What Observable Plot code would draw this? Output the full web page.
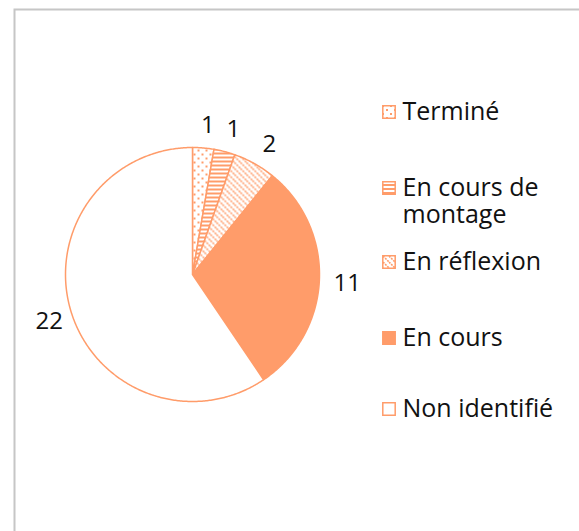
<!DOCTYPE html>
<html><head><meta charset="utf-8">
<script src="https://cdn.jsdelivr.net/npm/d3@7"></script>
<script src="https://cdn.jsdelivr.net/npm/@observablehq/plot@0.6"></script>
<style>body{margin:0;background:#fff;} svg{display:block;}</style>
</head><body><div id="chart"></div>
<script>
const categories = ["Terminé", "En cours de montage", "En réflexion", "En cours", "Non identifié"];
const legendLabels = ["Terminé", "En cours de\nmontage", "En réflexion", "En cours", "Non identifié"];
const values = [1, 1, 2, 11, 22];
const fills = ["url(#pDots)", "url(#pHoriz)", "url(#pDiag)", "#FF9C6A", "#ffffff"];
const orange = "#FF9C6A";
const font = "'Open Sans', sans-serif";

const total = d3.sum(values);
let acc = 0;
const slices = values.map((v, i) => {
  const a0 = acc / total * 2 * Math.PI;
  acc += v;
  const a1 = acc / total * 2 * Math.PI;
  const pts = [{x: 0, y: 0}];
  const n = Math.max(2, Math.ceil((a1 - a0) / 0.01));
  for (let k = 0; k <= n; k++) {
    const a = a0 + (a1 - a0) * k / n;
    pts.push({x: Math.sin(a), y: Math.cos(a)});
  }
  pts.push({x: 0, y: 0});
  const am = (a0 + a1) / 2;
  return {cat: categories[i], value: v, fill: fills[i], pts, lx: 1.2 * Math.sin(am) + 0.02, ly: 1.2 * Math.cos(am) - 0.02};
});

// layout helpers (pixel -> unit coordinates of the pie frame)
const cx = 192, cy = 274, R = 127;
const ux = px => (px - cx) / R, uy = py => (cy - py) / R;
const legendTops = [100, 176, 250, 326, 397];
const legend = categories.map((c, i) => ({
  label: legendLabels[i], fill: fills[i],
  sx: ux(388.5), sy: uy(legendTops[i] + 18 - 6.5),
  tx: ux(402), ty: uy(legendTops[i])
}));

const W = 579, H = 531;
const chart = Plot.plot({
  width: W, height: H,
  marginLeft: cx - R, marginRight: W - (cx + R),
  marginTop: cy - R, marginBottom: H - (cy + R),
  x: {domain: [-1, 1], axis: null},
  y: {domain: [-1, 1], axis: null},
  style: {fontFamily: font, background: "#fff"},
  marks: [
    ...slices.map(s => Plot.line(s.pts, {x: "x", y: "y", fill: s.fill, stroke: orange, strokeWidth: 1.5, strokeLinejoin: "round", curve: "linear"})),
    Plot.text(slices, {x: "lx", y: "ly", text: d => String(d.value), fontSize: 24, fill: "#111", textAnchor: "middle", lineAnchor: "middle"}),
    Plot.dot(legend, {x: "sx", y: "sy", symbol: "square", r: 7, fill: "fill", stroke: orange, strokeWidth: 1.5}),
    Plot.text(legend, {x: "tx", y: "ty", text: "label", fontSize: 25, fill: "#111", textAnchor: "start", lineAnchor: "top", lineHeight: 1.08})
  ]
});

const svg = d3.select(chart);
const defs = svg.insert("defs", ":first-child");
const p1 = defs.append("pattern").attr("id", "pDots").attr("patternUnits", "userSpaceOnUse").attr("width", 8).attr("height", 8);
p1.append("rect").attr("width", 8).attr("height", 8).attr("fill", "#fff");
p1.append("rect").attr("x", 1).attr("y", 1).attr("width", 2).attr("height", 2).attr("fill", orange);
p1.append("rect").attr("x", 5).attr("y", 5).attr("width", 2).attr("height", 2).attr("fill", orange);
const p2 = defs.append("pattern").attr("id", "pHoriz").attr("patternUnits", "userSpaceOnUse").attr("width", 4).attr("height", 4);
p2.append("rect").attr("width", 4).attr("height", 4).attr("fill", "#fff");
p2.append("rect").attr("y", 0).attr("width", 4).attr("height", 2).attr("fill", orange);
const p3 = defs.append("pattern").attr("id", "pDiag").attr("patternUnits", "userSpaceOnUse").attr("width", 6).attr("height", 6);
p3.append("rect").attr("width", 6).attr("height", 6).attr("fill", "#fff");
p3.append("path").attr("d", "M0,0L6,6M-1.5,4.5L1.5,7.5M4.5,-1.5L7.5,1.5").attr("stroke", orange).attr("stroke-width", 1.6).attr("stroke-dasharray", "2,1");
svg.insert("rect", "defs + *").attr("x", 14.5).attr("y", 9.5).attr("width", W).attr("height", H).attr("fill", "none").attr("stroke", "#c6c6c6").attr("stroke-width", 2);

document.getElementById("chart").appendChild(chart);
</script></body></html>
